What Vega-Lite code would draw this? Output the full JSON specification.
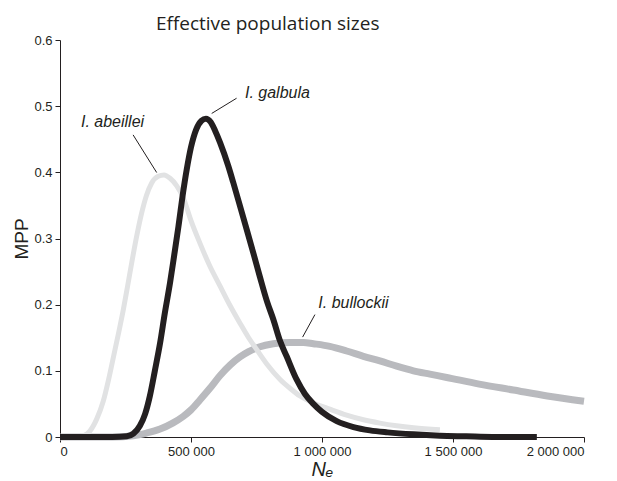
{
  "$schema": "https://vega.github.io/schema/vega-lite/v6.json",
  "width": 524,
  "height": 397,
  "autosize": {"type": "none"},
  "padding": {"left": 60, "top": 40, "right": 33, "bottom": 44},
  "background": "white",
  "title": {
    "text": "Effective population sizes",
    "anchor": "start",
    "dx": 143,
    "offset": 0,
    "font": "Open Sans",
    "fontSize": 19,
    "fontWeight": "normal",
    "color": "#231f20"
  },
  "config": {
    "view": {"stroke": null},
    "axis": {
      "grid": false,
      "domainColor": "#231f20",
      "tickColor": "#231f20",
      "tickSize": 5,
      "labelFont": "Liberation Sans",
      "labelFontSize": 13,
      "labelColor": "#231f20",
      "titleFont": "Liberation Sans",
      "titleFontWeight": "normal",
      "titleColor": "#231f20"
    }
  },
  "datasets": {
    "curves": [
      {"species": "I. bullockii", "N": 0, "MPP": 0},
      {"species": "I. bullockii", "N": 200000, "MPP": 0},
      {"species": "I. bullockii", "N": 280000, "MPP": 0.002},
      {"species": "I. bullockii", "N": 330000, "MPP": 0.006},
      {"species": "I. bullockii", "N": 382000, "MPP": 0.012},
      {"species": "I. bullockii", "N": 430000, "MPP": 0.021},
      {"species": "I. bullockii", "N": 470000, "MPP": 0.031},
      {"species": "I. bullockii", "N": 500000, "MPP": 0.041},
      {"species": "I. bullockii", "N": 534000, "MPP": 0.056},
      {"species": "I. bullockii", "N": 573000, "MPP": 0.074},
      {"species": "I. bullockii", "N": 611000, "MPP": 0.093},
      {"species": "I. bullockii", "N": 650000, "MPP": 0.109},
      {"species": "I. bullockii", "N": 687000, "MPP": 0.121},
      {"species": "I. bullockii", "N": 720000, "MPP": 0.129},
      {"species": "I. bullockii", "N": 760000, "MPP": 0.136},
      {"species": "I. bullockii", "N": 814000, "MPP": 0.141},
      {"species": "I. bullockii", "N": 878000, "MPP": 0.143},
      {"species": "I. bullockii", "N": 929000, "MPP": 0.143},
      {"species": "I. bullockii", "N": 967000, "MPP": 0.141},
      {"species": "I. bullockii", "N": 1030000, "MPP": 0.137},
      {"species": "I. bullockii", "N": 1094000, "MPP": 0.130},
      {"species": "I. bullockii", "N": 1158000, "MPP": 0.122},
      {"species": "I. bullockii", "N": 1221000, "MPP": 0.115},
      {"species": "I. bullockii", "N": 1285000, "MPP": 0.107},
      {"species": "I. bullockii", "N": 1349000, "MPP": 0.100},
      {"species": "I. bullockii", "N": 1412000, "MPP": 0.095},
      {"species": "I. bullockii", "N": 1476000, "MPP": 0.090},
      {"species": "I. bullockii", "N": 1600000, "MPP": 0.080},
      {"species": "I. bullockii", "N": 1730000, "MPP": 0.071},
      {"species": "I. bullockii", "N": 1860000, "MPP": 0.062},
      {"species": "I. bullockii", "N": 2000000, "MPP": 0.054},

      {"species": "I. abeillei", "N": 0, "MPP": 0},
      {"species": "I. abeillei", "N": 60000, "MPP": 0},
      {"species": "I. abeillei", "N": 90000, "MPP": 0.002},
      {"species": "I. abeillei", "N": 114000, "MPP": 0.009},
      {"species": "I. abeillei", "N": 140000, "MPP": 0.027},
      {"species": "I. abeillei", "N": 165000, "MPP": 0.054},
      {"species": "I. abeillei", "N": 185000, "MPP": 0.086},
      {"species": "I. abeillei", "N": 204000, "MPP": 0.121},
      {"species": "I. abeillei", "N": 224000, "MPP": 0.158},
      {"species": "I. abeillei", "N": 242000, "MPP": 0.193},
      {"species": "I. abeillei", "N": 258000, "MPP": 0.228},
      {"species": "I. abeillei", "N": 274000, "MPP": 0.264},
      {"species": "I. abeillei", "N": 293000, "MPP": 0.304},
      {"species": "I. abeillei", "N": 312000, "MPP": 0.339},
      {"species": "I. abeillei", "N": 330000, "MPP": 0.365},
      {"species": "I. abeillei", "N": 350000, "MPP": 0.384},
      {"species": "I. abeillei", "N": 375000, "MPP": 0.394},
      {"species": "I. abeillei", "N": 397000, "MPP": 0.396},
      {"species": "I. abeillei", "N": 420000, "MPP": 0.391},
      {"species": "I. abeillei", "N": 445000, "MPP": 0.380},
      {"species": "I. abeillei", "N": 471000, "MPP": 0.361},
      {"species": "I. abeillei", "N": 500000, "MPP": 0.327},
      {"species": "I. abeillei", "N": 534000, "MPP": 0.293},
      {"species": "I. abeillei", "N": 570000, "MPP": 0.260},
      {"species": "I. abeillei", "N": 611000, "MPP": 0.228},
      {"species": "I. abeillei", "N": 650000, "MPP": 0.198},
      {"species": "I. abeillei", "N": 687000, "MPP": 0.172},
      {"species": "I. abeillei", "N": 720000, "MPP": 0.150},
      {"species": "I. abeillei", "N": 751000, "MPP": 0.132},
      {"species": "I. abeillei", "N": 790000, "MPP": 0.110},
      {"species": "I. abeillei", "N": 840000, "MPP": 0.087},
      {"species": "I. abeillei", "N": 880000, "MPP": 0.073},
      {"species": "I. abeillei", "N": 916000, "MPP": 0.062},
      {"species": "I. abeillei", "N": 970000, "MPP": 0.051},
      {"species": "I. abeillei", "N": 1030000, "MPP": 0.042},
      {"species": "I. abeillei", "N": 1094000, "MPP": 0.033},
      {"species": "I. abeillei", "N": 1158000, "MPP": 0.026},
      {"species": "I. abeillei", "N": 1221000, "MPP": 0.021},
      {"species": "I. abeillei", "N": 1285000, "MPP": 0.017},
      {"species": "I. abeillei", "N": 1350000, "MPP": 0.014},
      {"species": "I. abeillei", "N": 1450000, "MPP": 0.011},

      {"species": "I. galbula", "N": 0, "MPP": 0},
      {"species": "I. galbula", "N": 200000, "MPP": 0},
      {"species": "I. galbula", "N": 255000, "MPP": 0.001},
      {"species": "I. galbula", "N": 280000, "MPP": 0.005},
      {"species": "I. galbula", "N": 305000, "MPP": 0.017},
      {"species": "I. galbula", "N": 325000, "MPP": 0.035},
      {"species": "I. galbula", "N": 343000, "MPP": 0.062},
      {"species": "I. galbula", "N": 362000, "MPP": 0.100},
      {"species": "I. galbula", "N": 382000, "MPP": 0.142},
      {"species": "I. galbula", "N": 400000, "MPP": 0.187},
      {"species": "I. galbula", "N": 420000, "MPP": 0.233},
      {"species": "I. galbula", "N": 436000, "MPP": 0.275},
      {"species": "I. galbula", "N": 452000, "MPP": 0.318},
      {"species": "I. galbula", "N": 470000, "MPP": 0.370},
      {"species": "I. galbula", "N": 484000, "MPP": 0.405},
      {"species": "I. galbula", "N": 500000, "MPP": 0.438},
      {"species": "I. galbula", "N": 520000, "MPP": 0.465},
      {"species": "I. galbula", "N": 540000, "MPP": 0.478},
      {"species": "I. galbula", "N": 557000, "MPP": 0.481},
      {"species": "I. galbula", "N": 575000, "MPP": 0.476},
      {"species": "I. galbula", "N": 592000, "MPP": 0.463},
      {"species": "I. galbula", "N": 611000, "MPP": 0.445},
      {"species": "I. galbula", "N": 642000, "MPP": 0.410},
      {"species": "I. galbula", "N": 661000, "MPP": 0.385},
      {"species": "I. galbula", "N": 690000, "MPP": 0.345},
      {"species": "I. galbula", "N": 713000, "MPP": 0.313},
      {"species": "I. galbula", "N": 740000, "MPP": 0.275},
      {"species": "I. galbula", "N": 763000, "MPP": 0.242},
      {"species": "I. galbula", "N": 790000, "MPP": 0.205},
      {"species": "I. galbula", "N": 814000, "MPP": 0.178},
      {"species": "I. galbula", "N": 840000, "MPP": 0.145},
      {"species": "I. galbula", "N": 865000, "MPP": 0.122},
      {"species": "I. galbula", "N": 903000, "MPP": 0.087},
      {"species": "I. galbula", "N": 935000, "MPP": 0.065},
      {"species": "I. galbula", "N": 967000, "MPP": 0.050},
      {"species": "I. galbula", "N": 1000000, "MPP": 0.038},
      {"species": "I. galbula", "N": 1056000, "MPP": 0.024},
      {"species": "I. galbula", "N": 1120000, "MPP": 0.015},
      {"species": "I. galbula", "N": 1183000, "MPP": 0.010},
      {"species": "I. galbula", "N": 1250000, "MPP": 0.007},
      {"species": "I. galbula", "N": 1349000, "MPP": 0.004},
      {"species": "I. galbula", "N": 1450000, "MPP": 0.002},
      {"species": "I. galbula", "N": 1550000, "MPP": 0.001},
      {"species": "I. galbula", "N": 1650000, "MPP": 0},
      {"species": "I. galbula", "N": 1820000, "MPP": 0}
    ],
    "notes": [
      {"label": "I. abeillei", "lx": 80000, "ly": 0.469, "x1": 279000, "y1": 0.4566, "x2": 369000, "y2": 0.3997},
      {"label": "I. galbula", "lx": 706000, "ly": 0.512, "x1": 674000, "y1": 0.512, "x2": 579000, "y2": 0.489},
      {"label": "I. bullockii", "lx": 986000, "ly": 0.195, "x1": 973000, "y1": 0.185, "x2": 926000, "y2": 0.151}
    ]
  },
  "layer": [
    {
      "data": {"name": "curves"},
      "transform": [{"filter": "datum.species == 'I. bullockii'"}],
      "mark": {"type": "line", "interpolate": "monotone", "color": "#b9babe", "strokeWidth": 7},
      "encoding": {
        "x": {
          "field": "N", "type": "quantitative",
          "scale": {"domain": [0, 2000000], "nice": false},
          "axis": {
            "values": [0, 500000, 1000000, 1500000, 2000000],
            "labelExpr": "replace(format(datum.value, ','), /,/g, ' ')",
            "labelPadding": 3,
            "title": "Nₑ",
            "titleFontSize": 20,
            "titleFontStyle": "italic",
            "titlePadding": 1
          }
        },
        "y": {
          "field": "MPP", "type": "quantitative",
          "scale": {"domain": [0, 0.6], "nice": false},
          "axis": {
            "values": [0, 0.1, 0.2, 0.3, 0.4, 0.5, 0.6],
            "labelExpr": "datum.value == 0 ? '0' : format(datum.value, '.1f')",
            "labelPadding": 3,
            "title": "MPP",
            "titleFontSize": 19,
            "titlePadding": 2
          }
        }
      }
    },
    {
      "data": {"name": "curves"},
      "transform": [{"filter": "datum.species == 'I. abeillei'"}],
      "mark": {"type": "line", "interpolate": "monotone", "color": "#e1e2e3", "strokeWidth": 5},
      "encoding": {
        "x": {"field": "N", "type": "quantitative"},
        "y": {"field": "MPP", "type": "quantitative"}
      }
    },
    {
      "data": {"name": "curves"},
      "transform": [{"filter": "datum.species == 'I. galbula'"}],
      "mark": {"type": "line", "interpolate": "monotone", "color": "#231f20", "strokeWidth": 6},
      "encoding": {
        "x": {"field": "N", "type": "quantitative"},
        "y": {"field": "MPP", "type": "quantitative"}
      }
    },
    {
      "data": {"name": "notes"},
      "mark": {"type": "rule", "color": "#231f20", "strokeWidth": 1},
      "encoding": {
        "x": {"field": "x1", "type": "quantitative"},
        "y": {"field": "y1", "type": "quantitative"},
        "x2": {"field": "x2"},
        "y2": {"field": "y2"}
      }
    },
    {
      "data": {"name": "notes"},
      "mark": {"type": "text", "align": "left", "baseline": "alphabetic", "font": "Liberation Sans", "fontSize": 16, "fontStyle": "italic", "color": "#231f20"},
      "encoding": {
        "x": {"field": "lx", "type": "quantitative"},
        "y": {"field": "ly", "type": "quantitative"},
        "text": {"field": "label"}
      }
    }
  ]
}
